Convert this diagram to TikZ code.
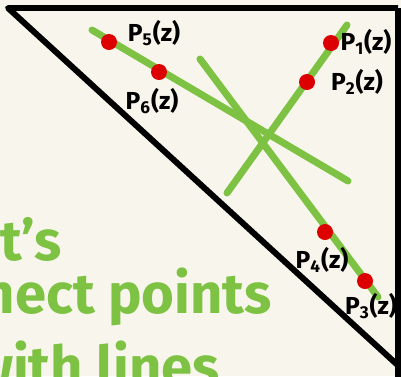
\documentclass[tikz,border=0pt]{standalone}
\usepackage{fontspec}
\setmainfont{Fira Sans}
\usetikzlibrary{positioning,calc}
\definecolor{paper}{HTML}{F8F6EC}
\definecolor{pen}{HTML}{7DC242}
\definecolor{dotred}{HTML}{DD0000}

\begin{document}
\begin{tikzpicture}[x=0.02cm, y=-0.02cm,
    dot/.style={circle, fill=dotred, inner sep=0pt, minimum size=0.32cm},
    lab/.style={font=\fontsize{14}{14}\selectfont\bfseries, inner sep=0pt},
    stroke/.style={pen, line width=4pt, line cap=round},
    hand/.style={pen, font=\fontsize{32}{32}\selectfont\bfseries, anchor=base east, inner sep=0pt}]
  % Paper
  \fill[paper] (0,0) rectangle (401,376);
  \useasboundingbox (0,0) rectangle (401,376);
  \clip (0,0) rectangle (401,376);

  % Triangle
  \draw[black, line width=3.4pt, line join=round] (398,8) -- (8,8) -- (403,370);
  \draw[black, line width=3.4pt] (398,8) -- (398,380);

  % --- Strokes ---
  \coordinate (s1a) at (92,30);   \coordinate (s1b) at (348,181);
  \coordinate (s2a) at (200,59);  \coordinate (s2b) at (378,297);
  \coordinate (s3a) at (347,25);  \coordinate (s3b) at (227,193);
  \draw[stroke] (s1a) -- (s1b);
  \draw[stroke] (s2a) -- (s2b);
  \draw[stroke] (s3a) -- (s3b);

  % --- Points ---
  \node[dot] (p5) at (109,42) {};
  \node[dot] (p6) at (159,72) {};
  \node[dot] (p1) at (331,43) {};
  \node[dot] (p2) at (307,82) {};
  \node[dot] (p4) at (325,232) {};
  \node[dot] (p3) at (365,281) {};
  \node[lab] (l5) at (154,33) {P\textsubscript{5}(z)};
  \node[lab] (l6) at (152,101) {P\textsubscript{6}(z)};
  \node[lab] (l1) at (366,42) {P\textsubscript{1}(z)};
  \node[lab] (l2) at (357,82) {P\textsubscript{2}(z)};
  \node[lab] (l4) at (322,260) {P\textsubscript{4}(z)};
  \node[lab] (l3) at (371,306) {P\textsubscript{3}(z)};

  % --- Handwritten note ---
  \node[hand] (n1) at (62,260) {Let's};
  \node[hand] (n2) at (272,313) {connect points};
  \node[hand] (n3) at (220,386) {with lines};
\end{tikzpicture}
\end{document}
